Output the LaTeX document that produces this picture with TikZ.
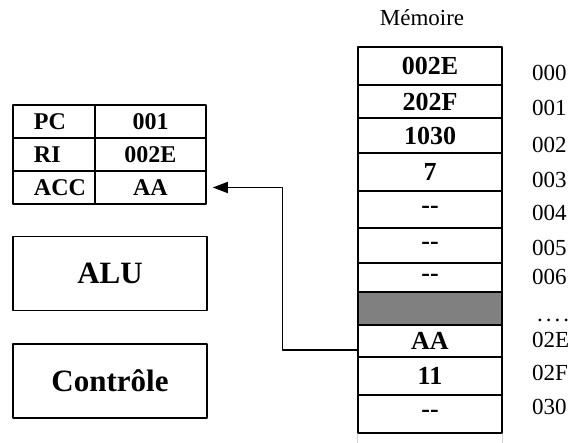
\documentclass[tikz,border=0pt]{standalone}
\usepackage{fontspec}
\setmainfont{Liberation Serif}
\usetikzlibrary{arrows.meta}

\begin{document}
\begin{tikzpicture}[x=1pt,y=-1pt,>={Triangle[length=15pt,width=11pt]},line join=round,
  font=\fontsize{23}{27}\selectfont,
  box/.style={draw,line width=1.5pt,inner sep=0pt},
  memcell/.style={box,minimum width=144pt,font=\fontsize{26}{30}\selectfont\bfseries},
  regname/.style={box,minimum width=82pt,minimum height=33pt,text width=40pt,align=left,inner xsep=21pt,font=\fontsize{24}{28}\selectfont\bfseries},
  regval/.style={box,minimum width=111pt,minimum height=33pt,font=\fontsize{24}{28}\selectfont\bfseries},
  unit/.style={box,minimum width=194pt,minimum height=74pt,font=\fontsize{31}{36}\selectfont\bfseries},
  addr/.style={anchor=west,inner sep=0pt}]
\useasboundingbox (0,0) rectangle (576,443);
% --- registers
\node[regname] (pc) at (54,121.5) {PC};
\node[regval] (pcv) at (150.5,121.5) {001};
\node[regname] (ri) at (54,154.5) {RI};
\node[regval] (riv) at (150.5,154.5) {002E};
\node[regname] (acc) at (54,187.5) {ACC};
\node[regval] (accv) at (150.5,187.5) {AA};
% --- ALU and control unit
\node[unit] (alu) at (110,273.5) {ALU};
\node[unit] (ctrl) at (110,381) {Contrôle};
% --- memory
\node (mem) at (422,18) {Mémoire};
\foreach \ya/\yb/\txt/\col [count=\i] in {47/85/002E/white,85/118/202F/white,118/153/1030/white,
  153/191/7/white,191/228/-{}-/white,228/263/-{}-/white,263/292/-{}-/white,292/325//gray,
  325/357/AA/white,357/395/11/white,395/433/-{}-/white}
  \node[memcell,fill=\col,minimum height={\yb-\ya}] (m\i) at (430,{(\ya+\yb)/2}) {\txt};
\draw[gray!35,line width=1pt] (m11.south west) -- ++(0,10) (m11.south east) -- ++(0,10);
% addresses
\foreach \y/\adr in {73/000,108/001,145/002,180/003,213/004,248/005,277/006,340/02E,373/02F,407/030}
  \node[addr] (a\adr) at (532,\y) {\adr};
\node[anchor=base west,inner sep=0pt] (dots) at (537,322) {.\kern3pt.\kern3pt.\kern3pt.};
% --- load AA into ACC
\draw[->,line width=1.5pt,shorten >=6pt] ([yshift=-9pt]m9.west) -- ++(-75,0) |- (accv.east);
\end{tikzpicture}
\end{document}
